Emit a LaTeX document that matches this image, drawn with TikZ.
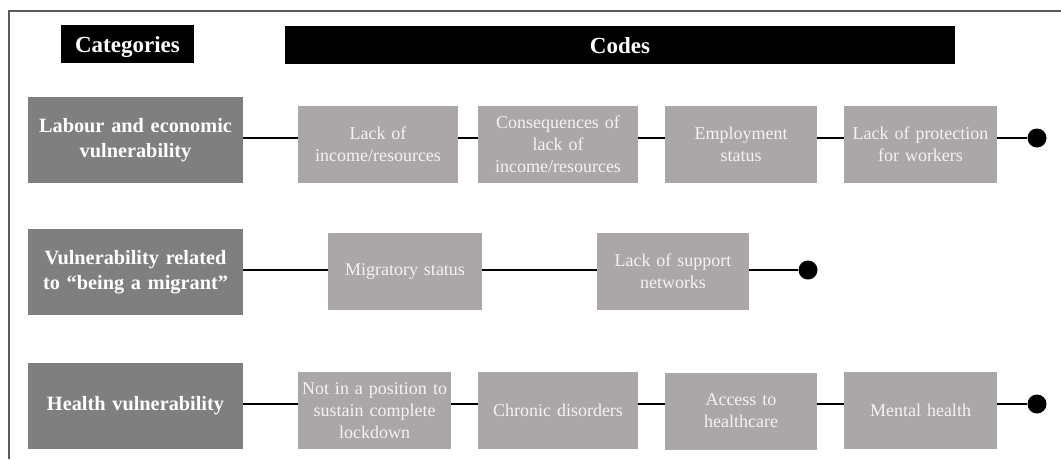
\documentclass[tikz,border=0pt]{standalone}
\usepackage{fontspec}
\setmainfont{Liberation Serif}
\definecolor{catgray}{HTML}{7F7F7F}
\definecolor{codegray}{HTML}{ABA7A8}
\definecolor{codetext}{HTML}{F4F2F2}
\definecolor{framegray}{HTML}{5A5A5A}
\begin{document}
\begin{tikzpicture}[x=1pt,y=-1pt,
  hdr/.style={fill=black, text=white, font=\bfseries\fontsize{23}{27}\selectfont, inner sep=0pt, minimum height=38pt, text height=20pt, text depth=2.8pt},
  cat/.style={fill=catgray, text=white, font=\bfseries\fontsize{20.3}{25.5}\selectfont, align=center, minimum width=215pt, minimum height=86pt, inner sep=0pt, text width=212pt},
  code/.style={fill=codegray, text=codetext, font=\fontsize{18}{22}\selectfont, align=center, minimum height=77pt, inner sep=0pt},
  enddot/.style={circle, fill=black, minimum size=19pt, inner sep=0pt},
  link/.style={line width=2pt, black}]
\useasboundingbox (0,0) rectangle (1061,459);
\draw[framegray, line width=1.5pt] (9,459) -- (9,11) -- (1061,11);
% headers
\node[hdr, minimum width=133pt] (hcat) at (127.5,44) {Categories};
\node[hdr, minimum width=670pt] (hcode) at (620,44.5) {Codes};
% categories
\node[cat] (k1) at (135.5,140) {Labour and economic\\vulnerability};
\node[cat] (k2) at (135.5,272) {Vulnerability related\\to \textquotedblleft being a migrant\textquotedblright};
\node[cat] (k3) at (135.5,406) {Health vulnerability};
% row coordinates
\coordinate (r1) at (0,138);
\coordinate (r2) at (0,270);
\coordinate (r3) at (0,404);
% row 1
\node[code, minimum width=160pt, text width=158pt] (c11) at (378,144.5) {Lack of\\income/resources};
\node[code, minimum width=160pt, text width=158pt] (c12) at (558,144.5) {Consequences of\\lack of\\income/resources};
\node[code, minimum width=152pt, text width=150pt] (c13) at (741,144.5) {Employment\\status};
\node[code, minimum width=153pt, text width=152pt] (c14) at (920.5,144.5) {Lack of protection\\for workers};
\node[enddot] (d1) at (1037,138) {};
% row 2
\node[code, minimum width=154pt, text width=152pt] (c21) at (405,271.5) {Migratory status};
\node[code, minimum width=152pt, text width=150pt] (c22) at (673,271.5) {Lack of support\\networks};
\node[enddot] (d2) at (808,270) {};
% row 3
\node[code, minimum width=153pt, text width=152pt] (c31) at (374.5,410.5) {Not in a position to\\sustain complete\\lockdown};
\node[code, minimum width=160pt, text width=158pt] (c32) at (558,410.5) {Chronic disorders};
\node[code, minimum width=152pt, text width=150pt] (c33) at (741,411) {Access to\\healthcare};
\node[code, minimum width=153pt, text width=152pt] (c34) at (920.5,410.5) {Mental health};
\node[enddot] (d3) at (1037,404) {};
% connectors
\draw[link] (k1.east |- r1) -- (c11.west |- r1);
\draw[link] (c11.east |- r1) -- (c12.west |- r1);
\draw[link] (c12.east |- r1) -- (c13.west |- r1);
\draw[link] (c13.east |- r1) -- (c14.west |- r1);
\draw[link] (c14.east |- r1) -- (d1);
\draw[link] (k2.east |- r2) -- (c21.west |- r2);
\draw[link] (c21.east |- r2) -- (c22.west |- r2);
\draw[link] (c22.east |- r2) -- (d2);
\draw[link] (k3.east |- r3) -- (c31.west |- r3);
\draw[link] (c31.east |- r3) -- (c32.west |- r3);
\draw[link] (c32.east |- r3) -- (c33.west |- r3);
\draw[link] (c33.east |- r3) -- (c34.west |- r3);
\draw[link] (c34.east |- r3) -- (d3);
\end{tikzpicture}
\end{document}
